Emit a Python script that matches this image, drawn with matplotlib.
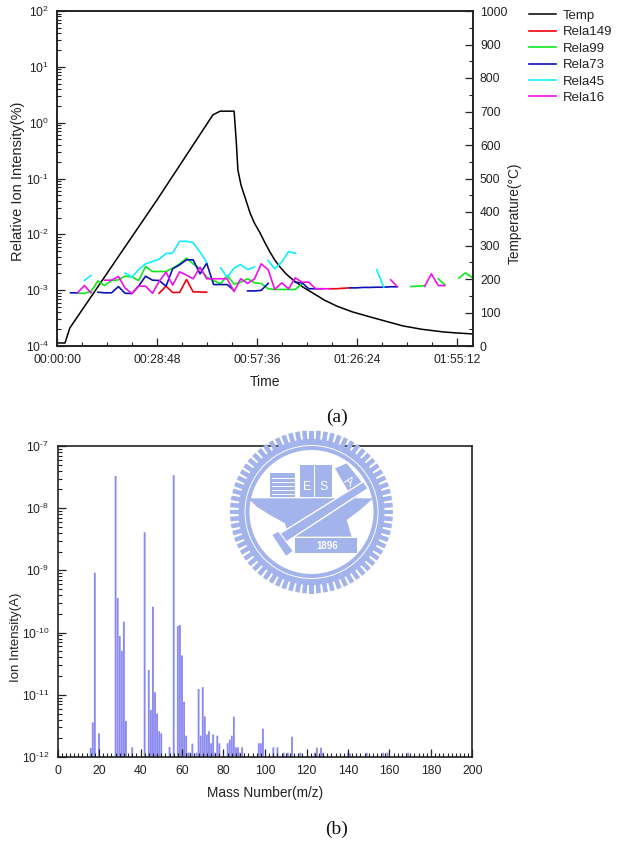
import numpy as np
import matplotlib
matplotlib.use('Agg')
import matplotlib.pyplot as plt
from matplotlib.patches import Circle, Polygon, Rectangle, Wedge
from matplotlib.ticker import FuncFormatter, LogLocator, MultipleLocator, NullFormatter

plt.rcParams['font.family'] = ['Liberation Sans', 'DejaVu Sans']
plt.rcParams['mathtext.default'] = 'regular'
plt.rcParams['axes.unicode_minus'] = False

n = np.nan

# temperature program, minutes and deg C
temp_time = [0, 2.3, 3.7, 28.8, 44.9, 47.0, 51.0, 51.6, 52.1, 53.0, 54.7, 55.6, 56.8, 58.5, 59.9, 61.3,
             62.7, 64.2, 66.0, 68.0, 70.8, 73.7, 77.0, 80.6, 85.0, 90.1, 95.0, 99.6, 105.0, 111.2, 115.0, 119.8]
temp_c = [9, 9, 54, 436, 690, 701, 701, 615, 525, 480, 426, 397, 368, 337, 308, 281,
          257, 236, 215, 197, 176, 158, 137, 119, 102, 87, 73, 60, 50, 42, 39, 36]

scan_time = [3.9, 5.9, 7.9, 9.8, 11.8, 13.7, 15.7, 17.7, 19.6, 21.6,
             23.5, 25.5, 27.5, 29.4, 31.4, 33.3, 35.3, 37.3, 39.2, 41.2,
             43.1, 45.1, 47.1, 49.0, 51.0, 52.9, 54.9, 56.9, 58.8, 60.8,
             62.7, 64.7, 66.7, 68.6, 70.6, 72.5, 74.5, 76.5, 78.4, 80.4,
             82.3, 84.3, 86.3, 88.2, 90.2, 92.1, 94.1, 96.1, 98.0, 100.0,
             101.9, 103.9, 105.9, 107.8, 109.8, 111.7, 113.7, 115.7, 117.6, 119.6]

rela149 = [n, n, n, n, n, n, n, n, n, n,
           n, n, n, 8.8e-4, 1.18e-3, 9.1e-4, 9.1e-4, 1.55e-3, 9.3e-4, 9.3e-4,
           9.2e-4, n, n, n, n, n, n, n, n, n,
           n, n, n, n, n, n, n, n, 1.06e-3, 1.06e-3,
           1.08e-3, 1.10e-3, n, n, n, n, n, n, n, n,
           n, n, n, n, n, n, n, n, n, n]
rela99 = [n, 8.8e-4, 8.8e-4, 9.45e-4, 1.47e-3, 1.21e-3, 1.49e-3, 1.53e-3, 1.78e-3, 1.73e-3,
          1.49e-3, 2.65e-3, 2.16e-3, 2.16e-3, 2.16e-3, 2.48e-3, 2.96e-3, 3.74e-3, 2.96e-3, 2.41e-3,
          1.71e-3, 1.49e-3, 1.30e-3, 1.83e-3, 1.28e-3, 1.39e-3, 1.6e-3, 1.35e-3, 1.32e-3, 1.06e-3,
          1.03e-3, 1.03e-3, 1.03e-3, 1.03e-3, 1.30e-3, n, n, n, n, n,
          n, n, n, n, n, n, n, n, n, n,
          1.16e-3, 1.18e-3, 1.2e-3, n, 1.6e-3, 1.25e-3, n, 1.64e-3, 2.04e-3, 1.69e-3]
rela73 = [8.96e-4, 8.96e-4, n, n, 9.2e-4, 8.96e-4, 8.96e-4, 1.16e-3, 8.8e-4, 8.7e-4,
          1.18e-3, 1.78e-3, 1.51e-3, 1.49e-3, 1.18e-3, 2.41e-3, 2.84e-3, 3.5e-3, 3.5e-3, 1.96e-3,
          3.04e-3, 1.26e-3, 1.26e-3, 1.26e-3, 9.9e-4, n, 9.7e-4, 9.7e-4, 9.9e-4, 1.32e-3,
          n, n, n, 1.39e-3, 1.35e-3, 1.06e-3, 1.06e-3, 1.06e-3, n, n,
          n, 1.10e-3, 1.10e-3, 1.12e-3, 1.12e-3, 1.13e-3, 1.13e-3, 1.15e-3, 1.15e-3, n,
          n, n, n, n, n, n, n, n, n, n]
rela45 = [n, n, 1.49e-3, 1.83e-3, n, n, n, n, 2.04e-3, 1.71e-3,
          2.34e-3, 2.96e-3, 3.26e-3, 3.59e-3, 4.53e-3, 4.6e-3, 7.5e-3, 7.5e-3, 7.1e-3, 4.8e-3,
          3.17e-3, n, 2.51e-3, 1.71e-3, 2.48e-3, 2.88e-3, 2.34e-3, 2.62e-3, n, 3.4e-3,
          2.41e-3, 3.17e-3, 4.9e-3, 4.6e-3, n, n, n, n, n, n,
          n, n, n, n, n, 2.31e-3, 1.13e-3, n, n, n,
          n, n, n, n, n, n, n, n, n, n]
rela16 = [n, 8.96e-4, 1.21e-3, 8.96e-4, n, 1.51e-3, 1.51e-3, 1.76e-3, 1.09e-3, 8.7e-4,
          1.18e-3, 1.18e-3, 8.8e-4, 1.43e-3, 2.1e-3, 1.23e-3, 2.13e-3, 1.86e-3, 1.6e-3, 2.58e-3,
          1.6e-3, 1.6e-3, 1.6e-3, 1.6e-3, 9.45e-4, 1.6e-3, 1.32e-3, 1.6e-3, 2.96e-3, 2.34e-3,
          1.03e-3, 1.35e-3, 1.06e-3, 1.66e-3, 1.39e-3, 1.39e-3, 1.06e-3, 1.06e-3, 1.06e-3, n,
          n, n, n, n, n, n, n, 1.53e-3, 1.16e-3, n,
          n, n, 1.18e-3, 1.96e-3, 1.21e-3, 1.21e-3, n, n, n, n]

rela_names = ['Rela149', 'Rela99', 'Rela73', 'Rela45', 'Rela16']
rela_colors = ['#f00010', '#10e81a', '#0c12b8', '#10eeff', '#f010e8']

# mass spectrum
mass = [16, 17, 18, 20, 28, 29, 30, 31, 32, 33, 36, 42, 44, 45, 46, 47, 48, 49, 50, 54,
        56, 58, 59, 60, 61, 62, 63, 64, 65, 67, 68, 69, 70, 71, 72, 73, 74, 75, 76, 77, 78,
        82, 83, 84, 85, 86, 87, 88, 89, 97, 98, 99, 104, 106, 109, 111, 113, 117, 124, 125,
        127, 128, 140, 141, 149, 157, 159, 169]
ion_current = [1.4e-12, 3.6e-12, 9.2e-10, 2.4e-12, 3.3e-8, 3.6e-10, 8.8e-11, 5.1e-11, 1.5e-10, 3.8e-12,
               1.43e-12, 4.1e-9, 2.5e-11, 5.7e-12, 2.6e-10, 1.1e-11, 5.0e-12, 2.6e-12, 2.4e-12, 1.45e-12,
               3.4e-8, 1.28e-10, 1.33e-10, 4.3e-11, 7.7e-12, 2.2e-12, 1.17e-12, 1.17e-12, 1.64e-12,
               1.17e-12, 1.24e-11, 2.2e-12, 1.33e-11, 4.5e-12, 2.3e-12, 2.6e-12, 1.66e-12, 2.3e-12,
               1.17e-12, 2.2e-12, 1.66e-12,
               1.66e-12, 1.9e-12, 2.2e-12, 4.45e-12, 1.43e-12, 1.43e-12, 1.17e-12, 1.43e-12,
               1.66e-12, 1.66e-12, 2.85e-12, 1.43e-12, 1.43e-12, 1.17e-12, 1.17e-12, 2.12e-12,
               1.17e-12, 1.17e-12, 1.41e-12, 1.41e-12, 1.17e-12, 1.17e-12, 1.15e-12, 1.17e-12,
               1.17e-12, 1.17e-12, 1.17e-12]


def hms(x, pos):
    sec = int(round(x * 60))
    return '%02d:%02d:%02d' % (sec // 3600, sec % 3600 // 60, sec % 60)


def decade(v, pos):
    # short hyphen in the exponent instead of the long math minus
    e = int(round(np.log10(v)))
    if e < 0:
        return '$\\mathdefault{10^{\u2010%d}}$' % -e
    return '$\\mathdefault{10^{%d}}$' % e


def style_axis(a):
    a.tick_params(which='major', direction='in', length=6, width=0.9, labelsize=8.7, color='#222222',
                  labelcolor='#222222', pad=6)
    a.tick_params(which='minor', direction='in', length=3, width=0.8, color='#222222')
    for s in a.spines.values():
        s.set_linewidth(1.2)
        s.set_color('#222222')


W, H = 617.0, 841.0
fig = plt.figure(figsize=(6.17, 8.41), dpi=100)

# upper panel
ax = fig.add_axes([57 / W, 1 - 346 / H, 416 / W, 335 / H])
ax2 = ax.twinx()
ax.set_zorder(ax2.get_zorder() + 1)
ax.patch.set_visible(False)

temp_line, = ax2.plot(temp_time, temp_c, color='black', lw=1.1, label='Temp')
handles = [temp_line]
for vals, name, col in zip([rela149, rela99, rela73, rela45, rela16], rela_names, rela_colors):
    l, = ax.plot(scan_time, vals, color=col, lw=1.2, label=name)
    handles.append(l)

ax.set_yscale('log')
ax.set_ylim(1e-4, 1e2)
ax.set_xlim(0, 119.8)
ax.xaxis.set_major_locator(MultipleLocator(28.8))
ax.xaxis.set_minor_locator(MultipleLocator(7.2))
ax.xaxis.set_major_formatter(FuncFormatter(hms))
ax.yaxis.set_major_locator(LogLocator(base=10, numticks=10))
ax.yaxis.set_major_formatter(FuncFormatter(decade))
ax.yaxis.set_minor_locator(LogLocator(base=10, subs=np.arange(2, 10) * 0.1, numticks=10))
ax.yaxis.set_minor_formatter(NullFormatter())
ax2.set_ylim(0, 1000)
ax2.yaxis.set_major_locator(MultipleLocator(100))
ax2.yaxis.set_minor_locator(MultipleLocator(50))
style_axis(ax)
style_axis(ax2)
ax2.tick_params(which='major', pad=5)

ax.set_xlabel('Time', fontsize=10, color='#222222')
ax.xaxis.set_label_coords((265 - 57) / 416, -29 / 335)
ax.set_ylabel('Relative Ion Intensity(%)', fontsize=10.5, color='#222222')
ax.yaxis.set_label_coords(-32 / 416, (346 - 181) / 335)
ax2.set_ylabel('Temperature(\N{DEGREE SIGN}C)', fontsize=9.8, color='#222222')
ax2.yaxis.set_label_coords(1 + 35 / 416, (346 - 213) / 335)

fig.legend(handles=handles, loc='upper left', bbox_to_anchor=(518 / W, 1 + 1 / H), frameon=False,
           fontsize=9.5, labelspacing=0.32, handlelength=2.1, handletextpad=0.5, borderpad=0.3,
           labelcolor='#222222')

# lower panel
bx = fig.add_axes([57.5 / W, 1 - 757 / H, 415 / W, 311 / H])
bars = bx.bar(mass, np.array(ion_current) - 1e-12, bottom=1e-12, width=0.9, color='#8a8af0', linewidth=0)
for b in bars:
    b.set_snap(False)
bx.set_yscale('log')
bx.set_ylim(1e-12, 1e-7)
bx.set_xlim(0, 200)
bx.xaxis.set_major_locator(MultipleLocator(20))
bx.xaxis.set_minor_locator(MultipleLocator(2))
bx.yaxis.set_major_locator(LogLocator(base=10, numticks=10))
bx.yaxis.set_major_formatter(FuncFormatter(decade))
bx.yaxis.set_minor_locator(LogLocator(base=10, subs=np.arange(2, 10) * 0.1, numticks=10))
bx.yaxis.set_minor_formatter(NullFormatter())
style_axis(bx)
bx.set_xlabel('Mass Number(m/z)', fontsize=9.8, color='#222222')
bx.xaxis.set_label_coords((265 - 57.5) / 415, -29 / 311)
bx.set_ylabel('Ion Intensity(A)', fontsize=9.5, color='#222222')
bx.yaxis.set_label_coords(-36 / 415, (757 - 637) / 311)

# page overlay in pixel coordinates: captions and the university seal
page = fig.add_axes([0, 0, 1, 1], zorder=5)
page.set_xlim(0, W)
page.set_ylim(H, 0)
page.axis('off')
page.text(337, 417, '(a)', family=['Liberation Serif'], fontsize=14, ha='center', va='center', color='#111111')
page.text(337, 829, '(b)', family=['Liberation Serif'], fontsize=14, ha='center', va='center', color='#111111')

seal = '#a3b3ec'
cx, cy = 311.5, 512.0


def sz(zx, zy):
    return (220 + zx / 3.0, 425 + zy / 3.0)


page.add_patch(Wedge((cx, cy), 73, 0, 360, width=11, fc=seal, ec='none'))
page.add_patch(Circle((cx, cy), 66.5, fc='none', ec='white', lw=0.7))
for ang in np.arange(0, 360, 5.0):
    page.add_patch(Rectangle((cx + 71, cy - 2.3), 10.5, 4.6, fc=seal, ec='none',
                             transform=matplotlib.transforms.Affine2D().rotate_deg_around(cx, cy, ang) + page.transData))

# anvil
anvil = [(85, 220), (460, 220), (420, 255), (380, 285), (395, 335), (225, 335), (205, 330), (195, 295),
         (150, 270), (110, 245)]
page.add_patch(Polygon([sz(*p) for p in anvil], fc=seal, ec='none'))
# books
page.add_patch(Rectangle(sz(150, 145), 25, 23.5, fc=seal, ec='none'))
for zy in (158, 170, 182, 194, 206):
    page.plot([sz(155, zy)[0], sz(222, zy)[0]], [sz(155, zy)[1]] * 2, color='white', lw=0.7)
page.add_patch(Rectangle(sz(240, 120), 13.5, 32, fc=seal, ec='none'))
page.add_patch(Rectangle(sz(285, 120), 17, 32, fc=seal, ec='none'))
page.add_patch(Polygon([sz(345, 130), sz(380, 115), sz(440, 190), sz(400, 225)], fc=seal, ec='none'))
page.text(*sz(262, 185), 'E', fontsize=9, color='white', ha='center', va='center')
page.text(*sz(310, 185), 'S', fontsize=9, color='white', ha='center', va='center')
page.text(*sz(385, 172), 'A', fontsize=9, color='white', ha='center', va='center', rotation=-35)
# sword across the anvil
page.add_patch(Polygon([sz(165, 335), sz(430, 170), sz(445, 190), sz(185, 360)], fc=seal, ec='white', lw=1.0))
page.add_patch(Polygon([sz(155, 330), sz(175, 318), sz(220, 378), sz(198, 395)], fc=seal, ec='white', lw=0.8))
# year plate
page.add_patch(Rectangle(sz(225, 340), 61.5, 15, fc=seal, ec='none'))
page.text(*sz(322, 363), '1896', fontsize=7, fontweight='bold', color='white', ha='center', va='center')

fig.savefig('out.png', dpi=100)
